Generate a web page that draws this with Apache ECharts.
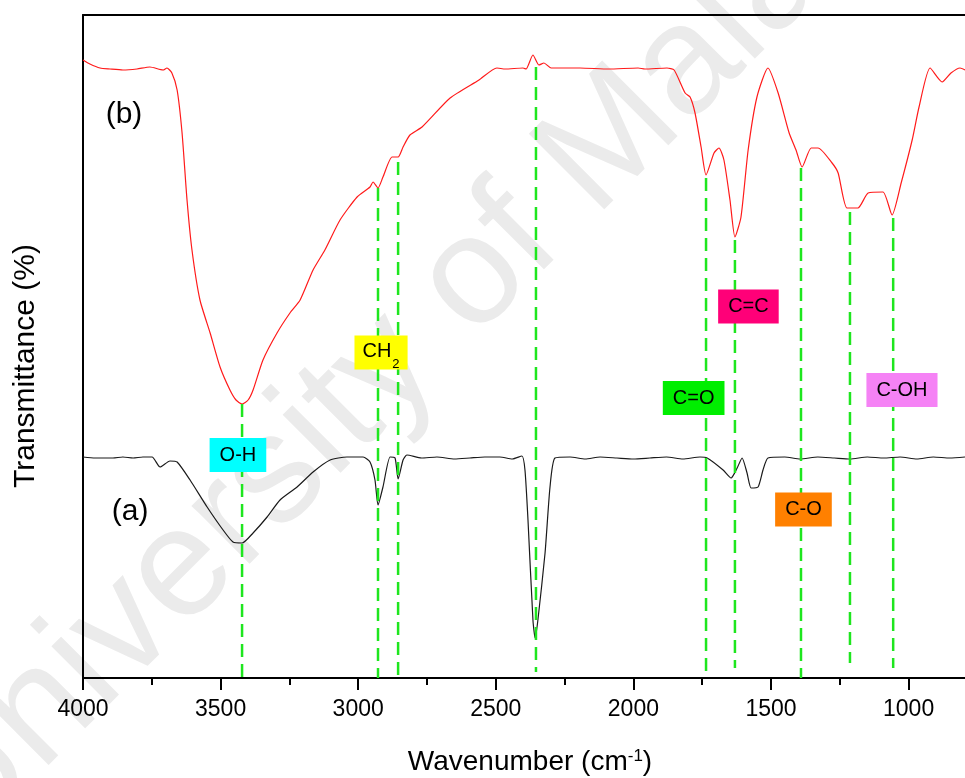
<!DOCTYPE html>
<html>
<head>
<meta charset="utf-8">
<title>FTIR spectra</title>
<script src="https://cdn.jsdelivr.net/npm/echarts@6/dist/echarts.min.js"></script>
<style>
  html, body { margin: 0; padding: 0; background: #ffffff; }
  #chart { width: 965px; height: 778px; }
</style>
</head>
<body>
<div id="chart"></div>
<script>
// Spectrum (b): wavenumber (cm-1) and offset transmittance
const wavenumberB = [4000, 3975, 3938, 3902, 3855, 3804, 3757, 3709, 3695, 3677, 3658, 3640, 3622, 3604, 3575, 3538, 3502, 3466, 3444, 3422,
  3400, 3382, 3346, 3295, 3248, 3211, 3164, 3121, 3066, 3004, 2957, 2946, 2928, 2910, 2877, 2855, 2837, 2812, 2768, 2666,
  2561, 2496, 2466, 2401, 2390, 2365, 2343, 2325, 2299, 2194, 2090, 1983, 1958, 1878, 1852, 1812, 1794, 1776, 1754, 1736,
  1707, 1689, 1671, 1649, 1631, 1609, 1583, 1551, 1511, 1474, 1434, 1409, 1387, 1354, 1329, 1278, 1256, 1224, 1184, 1147,
  1093, 1060, 1027, 987, 962, 922, 878, 846, 813, 795];
const transmittanceB = [61.8, 61.4, 61.0, 60.9, 60.8, 60.9, 61.1, 60.8, 61.0, 60.5, 58.8, 54.5, 47.8, 42.8, 37.8, 34.5, 31.1, 28.8, 27.8, 27.4,
  27.8, 28.8, 31.8, 34.5, 36.5, 37.8, 40.8, 42.8, 45.8, 48.1, 49.1, 49.6, 49.0, 50.1, 52.1, 52.1, 53.1, 54.3, 55.1, 58.0,
  59.8, 61.0, 60.9, 61.0, 60.9, 62.3, 61.3, 61.5, 61.0, 61.0, 60.9, 61.0, 60.9, 61.0, 60.8, 58.5, 58.1, 56.5, 53.1, 50.3,
  52.5, 53.0, 51.8, 47.8, 44.1, 46.1, 52.8, 58.1, 61.0, 58.5, 54.5, 52.8, 51.1, 53.0, 53.0, 51.5, 50.5, 47.0, 47.0, 48.5,
  48.6, 46.3, 49.5, 53.8, 57.1, 61.0, 59.6, 60.5, 61.0, 60.8];

// Spectrum (a)
const wavenumberA = [4000, 3956, 3891, 3855, 3818, 3782, 3749, 3720, 3684, 3658, 3611, 3549, 3491, 3455, 3422, 3382, 3331, 3284, 3222, 3164,
  3102, 3041, 2982, 2957, 2939, 2928, 2910, 2884, 2866, 2855, 2837, 2823, 2770, 2714, 2650, 2594, 2540, 2485, 2440, 2405,
  2394, 2383, 2365, 2357, 2347, 2321, 2303, 2285, 2230, 2175, 2121, 2060, 2000, 1940, 1880, 1820, 1758, 1732, 1674, 1645,
  1623, 1605, 1587, 1572, 1547, 1529, 1511, 1450, 1394, 1330, 1270, 1213, 1150, 1090, 1031, 970, 910, 850, 795];
const transmittanceA = [22.1, 22.0, 22.0, 22.1, 22.0, 22.1, 22.1, 21.1, 21.7, 21.6, 19.8, 17.1, 14.8, 13.6, 13.5, 14.5, 16.1, 17.8, 19.1, 20.6,
  21.8, 22.1, 22.1, 21.6, 19.8, 17.3, 19.1, 22.1, 22.0, 19.9, 21.8, 22.3, 22.0, 22.1, 21.9, 22.0, 22.1, 22.1, 21.9, 22.2,
  20.8, 15.8, 5.8, 4.0, 5.8, 12.5, 19.1, 22.0, 22.1, 21.9, 22.1, 22.0, 21.9, 22.0, 22.1, 21.9, 22.1, 22.0, 20.8, 20.0,
  21.0, 22.0, 20.5, 19.0, 19.1, 20.8, 22.0, 22.1, 21.9, 22.1, 22.0, 21.9, 22.1, 22.0, 22.1, 21.9, 22.1, 22.0, 22.1];

// Band guide lines: wavenumber, upper and lower transmittance of each dashed line
const bandLineWavenumber = [3422, 2928, 2855, 2354, 1736, 1631, 1391, 1213, 1056];
const bandLineTop = [27.4, 49.0, 51.6, 61.1, 50.0, 43.8, 51.0, 46.6, 46.0];
const bandLineBottom = [0, 0, 0, 0.6, 0.6, 1.0, 0, 1.5, 1.0];

// Functional-group tags
const bandNames = ['O-H', 'CH2', 'C=O', 'C=C', 'C-O', 'C-OH'];
const bandTagWavenumber = [3437, 2917, 1781, 1582, 1382, 1024];
const bandTagLevel = [22.3, 32.55, 28.0, 37.15, 16.85, 28.8];

// Trace tags
const traceNames = ['(b)', '(a)'];
const traceTagWavenumber = [3851, 3829];
const traceTagLevel = [56.3, 16.6];

// Axis ticks
const majorTicks = [4000, 3500, 3000, 2500, 2000, 1500, 1000];
const minorTicks = [3750, 3250, 2750, 2250, 1750, 1250];

const FONT = '"Liberation Sans", Arial, sans-serif';
const tagColors = {
  'O-H': '#00ffff',
  'CH2': '#ffff00',
  'C=O': '#00ee00',
  'C=C': '#ff0078',
  'C-O': '#ff8000',
  'C-OH': '#f582f5'
};

const zip = (xs, ys) => xs.map((x, i) => [x, ys[i]]);

const X_MIN = 795, X_MAX = 4000;
const baseX = {
  type: 'value', inverse: true, min: X_MIN, max: X_MAX,
  splitLine: { show: false }
};

const guideSeries = bandLineWavenumber.map((w, i) => ({
  type: 'line',
  xAxisIndex: 0,
  yAxisIndex: 0,
  data: [[w, bandLineTop[i]], [w, bandLineBottom[i]]],
  symbol: 'none',
  silent: true,
  z: 5,
  lineStyle: { color: '#1ee61e', width: 2.5, type: [13, 7] }
}));

const tagSeries = {
  type: 'scatter',
  xAxisIndex: 0,
  yAxisIndex: 0,
  symbolSize: 0,
  silent: true,
  z: 10,
  itemStyle: { opacity: 1 },
  data: bandNames.map((name, i) => {
    const isSub = name === 'CH2';
    return {
      name: name,
      value: [bandTagWavenumber[i], bandTagLevel[i]],
      label: {
        show: true,
        position: 'inside',
        formatter: isSub ? '{m|CH}{s|2}' : name,
        backgroundColor: tagColors[name],
        color: '#000',
        opacity: 1,
        fontFamily: FONT,
        fontSize: 20,
        lineHeight: 20,
        padding: isSub ? [6, 8] : [7, 10],
        rich: isSub ? {
          m: { fontFamily: FONT, fontSize: 20, lineHeight: 22, verticalAlign: 'top', color: '#000' },
          s: { fontFamily: FONT, fontSize: 13, lineHeight: 13, padding: [16, 0, 0, 1], verticalAlign: 'top', color: '#000' }
        } : undefined
      }
    };
  })
};

const traceTagSeries = {
  type: 'scatter',
  xAxisIndex: 0,
  yAxisIndex: 0,
  symbolSize: 0,
  silent: true,
  z: 10,
  itemStyle: { opacity: 1 },
  data: traceNames.map((name, i) => ({
    name: name,
    value: [traceTagWavenumber[i], traceTagLevel[i]],
    label: {
      show: true, position: 'inside', formatter: name, opacity: 1,
      color: '#000', fontFamily: FONT, fontSize: 30
    }
  }))
};

const chart = echarts.init(document.getElementById('chart'), null, { renderer: 'canvas' });

chart.setOption({
  backgroundColor: '#ffffff',
  animation: false,
  grid: { left: 83, right: 0, top: 15, bottom: 100, outerBoundsMode: 'none', containLabel: false },
  xAxis: [
    Object.assign({}, baseX, {
      position: 'bottom',
      name: '{t|Wavenumber (cm}{sup|-1}{t|)}',
      nameLocation: 'middle',
      nameGap: 70,
      nameTextStyle: {
        fontFamily: FONT, fontSize: 28, color: '#000',
        padding: [0, 0, 0, 12],
        rich: {
          t: { fontFamily: FONT, fontSize: 28, lineHeight: 28, color: '#000' },
          sup: { fontFamily: FONT, fontSize: 17, lineHeight: 17, verticalAlign: 'top', color: '#000' }
        }
      },
      axisLine: { show: true, onZero: false, lineStyle: { color: '#000', width: 2 } },
      axisTick: { show: true, customValues: majorTicks, length: 12, lineStyle: { color: '#000', width: 2 } },
      axisLabel: {
        show: true, customValues: majorTicks, margin: 20, color: '#000', fontFamily: FONT, fontSize: 23,
        formatter: (v) => String(v)
      }
    }),
    Object.assign({}, baseX, {
      position: 'top',
      axisLine: { show: true, onZero: false, lineStyle: { color: '#000', width: 2 } },
      axisTick: { show: false },
      axisLabel: { show: false }
    }),
    Object.assign({}, baseX, {
      position: 'bottom',
      axisLine: { show: false, onZero: false },
      axisTick: { show: true, customValues: minorTicks, length: 7, lineStyle: { color: '#000', width: 2 } },
      axisLabel: { show: false }
    })
  ],
  yAxis: {
    type: 'value', min: 0, max: 66.3,
    axisLine: { show: true, onZero: false, lineStyle: { color: '#000', width: 2 } },
    axisTick: { show: false },
    axisLabel: { show: false },
    splitLine: { show: false }
  },
  graphic: [
    {
      type: 'text', x: 425, y: 328, rotation: Math.PI / 4, z: -10, silent: true,
      style: {
        text: 'University of Malaya', fill: '#ebebeb',
        font: '155px "Liberation Sans", Arial, sans-serif',
        align: 'center', verticalAlign: 'middle'
      }
    },
    {
      type: 'text', x: 26, y: 366, rotation: Math.PI / 2, z: 5, silent: true,
      style: {
        text: 'Transmittance (%)', fill: '#000',
        font: '30px "Liberation Sans", Arial, sans-serif',
        align: 'center', verticalAlign: 'middle'
      }
    }
  ],
  series: [
    {
      name: '(b)', type: 'line', xAxisIndex: 0, yAxisIndex: 0,
      data: zip(wavenumberB, transmittanceB),
      symbol: 'none', smooth: 0.2, z: 3,
      lineStyle: { color: '#ff1a1a', width: 1.2 }
    },
    {
      name: '(a)', type: 'line', xAxisIndex: 0, yAxisIndex: 0,
      data: zip(wavenumberA, transmittanceA),
      symbol: 'none', smooth: 0.2, z: 3,
      lineStyle: { color: '#1a1a1a', width: 1.2 }
    }
  ].concat(guideSeries, [tagSeries, traceTagSeries])
});
</script>
</body>
</html>
